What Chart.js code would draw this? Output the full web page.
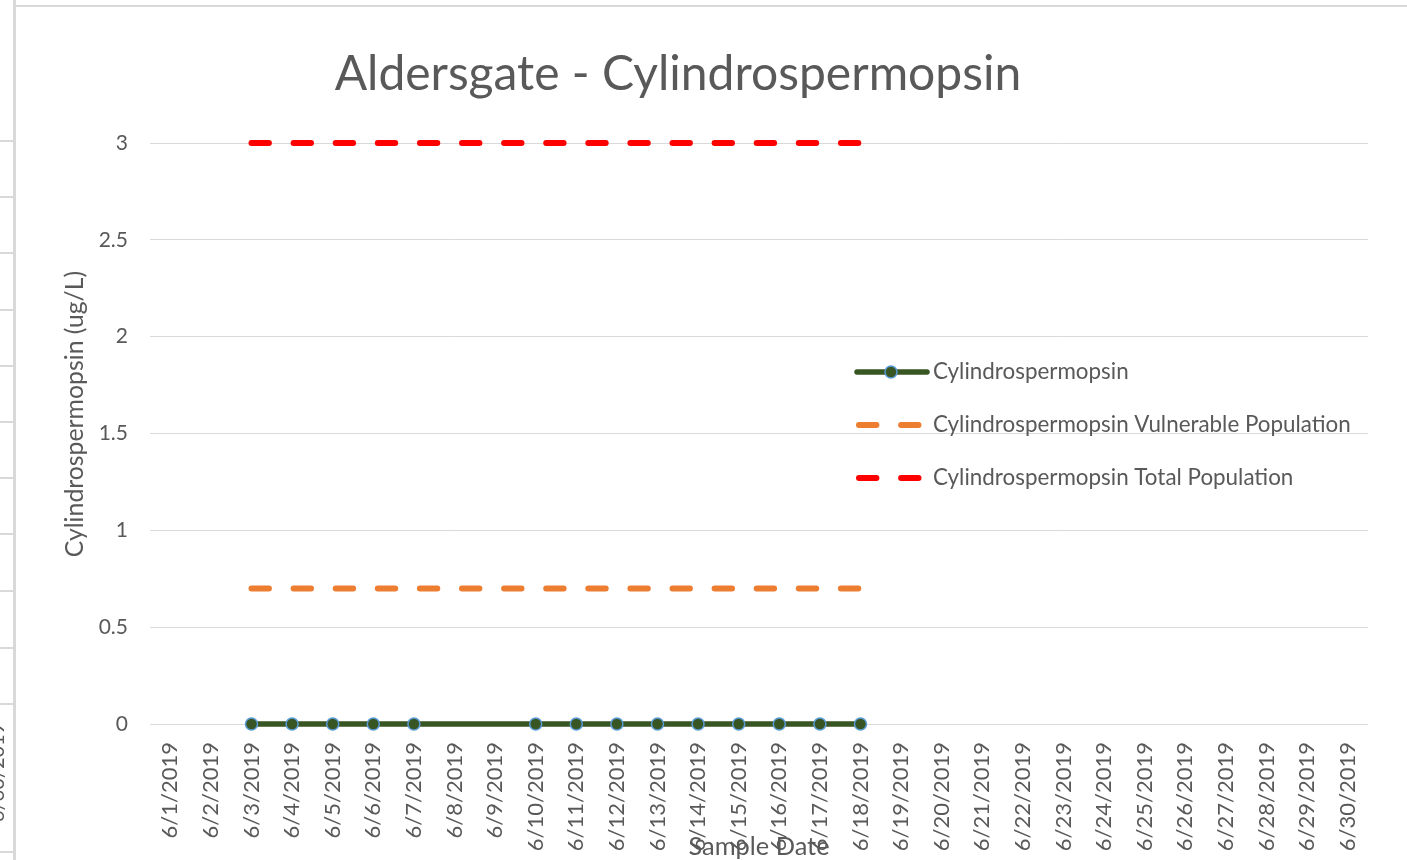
<!DOCTYPE html>
<html>
<head>
<meta charset="utf-8">
<script src="https://cdn.jsdelivr.net/npm/chart.js@4.4.0/dist/chart.umd.min.js"></script>
<style>
  html, body { margin: 0; padding: 0; background: #ffffff; overflow: hidden; }
  body { width: 1407px; height: 860px; position: relative; }
  #c { position: absolute; left: -12px; top: 0; }
  .fr { position: absolute; background: #d9d9d9; z-index: 2; }
  .cellText { position: absolute; z-index: 2; font-family: Lato, sans-serif; font-size: 20px; color: #595959;
              transform-origin: left top; transform: rotate(-90deg); white-space: nowrap; }
</style>
</head>
<body>
<canvas id="c" width="1419" height="860"></canvas>
<div class="fr" style="left:15px; top:5px; width:1392px; height:2px;"></div>
<div class="fr" style="left:13px; top:0; width:3px; height:860px;"></div>
<div id="ticks"></div>
<div class="cellText" style="left:-16px; top:822px;">6/30/2019</div>
<script>
// ---- data ----
const dates = ["6/1/2019","6/2/2019","6/3/2019","6/4/2019","6/5/2019","6/6/2019","6/7/2019","6/8/2019","6/9/2019","6/10/2019",
  "6/11/2019","6/12/2019","6/13/2019","6/14/2019","6/15/2019","6/16/2019","6/17/2019","6/18/2019","6/19/2019","6/20/2019",
  "6/21/2019","6/22/2019","6/23/2019","6/24/2019","6/25/2019","6/26/2019","6/27/2019","6/28/2019","6/29/2019","6/30/2019"];
const cylindrospermopsin = [null,null,0,0,0,0,0,null,null,0,0,0,0,0,0,0,0,0,null,null,null,null,null,null,null,null,null,null,null,null];
const vulnerablePopulation = [null,null,0.7,0.7,0.7,0.7,0.7,0.7,0.7,0.7,0.7,0.7,0.7,0.7,0.7,0.7,0.7,0.7,null,null,null,null,null,null,null,null,null,null,null,null];
const totalPopulation = [null,null,3,3,3,3,3,3,3,3,3,3,3,3,3,3,3,3,null,null,null,null,null,null,null,null,null,null,null,null];
const yTicks = [0, 0.5, 1, 1.5, 2, 2.5, 3];
const yTickLabels = ["0", "0.5", "1", "1.5", "2", "2.5", "3"];
const seriesNames = ["Cylindrospermopsin", "Cylindrospermopsin Vulnerable Population", "Cylindrospermopsin Total Population"];
const chartTitle = "Aldersgate - Cylindrospermopsin";
const yTitle = "Cylindrospermopsin (ug/L)";
const xTitle = "Sample Date";

// left spreadsheet cell borders (decoration)
const cellLines = [140,196,252,309,365,421,477,533,590,647,703,851];
const tk = document.getElementById('ticks');
cellLines.forEach(y => {
  const d = document.createElement('div');
  d.className = 'fr';
  d.style.cssText = 'left:0;top:' + y + 'px;width:13px;height:2px;';
  tk.appendChild(d);
});

const TXT = '#595959';
const FONT = 'Lato, "Open Sans", sans-serif';

const overlay = {
  id: 'overlay',
  afterDraw(chart) {
    const ctx = chart.ctx;
    const ds = chart.data.datasets;
    // y axis title
    ctx.save();
    ctx.fillStyle = TXT;
    ctx.font = '24.8px ' + FONT;
    ctx.textAlign = 'center';
    ctx.textBaseline = 'middle';
    ctx.translate(87, 414);
    ctx.rotate(-Math.PI / 2);
    ctx.fillText(yTitle, 0, 0);
    ctx.restore();
    // legend inside plot
    const rows = [372, 425, 478];
    const x0 = 869, x1 = 939, tx = 945;
    ds.forEach((d, i) => {
      const y = rows[i];
      ctx.save();
      ctx.strokeStyle = d.borderColor;
      ctx.lineWidth = d.borderWidth;
      ctx.lineCap = 'round';
      if (d.borderDash && d.borderDash.length) {
        ctx.setLineDash(d.borderDash);
        ctx.beginPath(); ctx.moveTo(x0 + 2, y); ctx.lineTo(x1 - 6, y); ctx.stroke();
      } else {
        ctx.beginPath(); ctx.moveTo(x0, y); ctx.lineTo(x1, y); ctx.stroke();
        ctx.beginPath();
        ctx.arc((x0 + x1) / 2 - 1, y, d.pointRadius, 0, Math.PI * 2);
        ctx.fillStyle = d.pointBackgroundColor;
        ctx.fill();
        ctx.lineWidth = d.pointBorderWidth;
        ctx.strokeStyle = d.pointBorderColor;
        ctx.stroke();
      }
      ctx.restore();
      ctx.save();
      ctx.fillStyle = TXT;
      ctx.font = '22.4px ' + FONT;
      ctx.textAlign = 'left';
      ctx.textBaseline = 'middle';
      ctx.fillText(d.label, tx, y);
      ctx.restore();
    });
  }
};

new Chart(document.getElementById('c'), {
  type: 'line',
  data: {
    labels: dates,
    datasets: [
      {
        label: seriesNames[0], data: cylindrospermopsin, spanGaps: true, clip: false,
        borderColor: '#375623', borderWidth: 5.5, borderCapStyle: 'round',
        pointRadius: 6, pointBackgroundColor: '#375623', pointBorderColor: '#5B9BD5', pointBorderWidth: 1.5,
        pointHoverRadius: 6, order: 0
      },
      {
        label: seriesNames[1], data: vulnerablePopulation, clip: false,
        borderColor: '#ED7D31', borderWidth: 6, borderDash: [17.4, 24.7], borderCapStyle: 'round',
        pointRadius: 0, pointHoverRadius: 0, order: 1
      },
      {
        label: seriesNames[2], data: totalPopulation, clip: false,
        borderColor: '#FF0000', borderWidth: 6, borderDash: [17.4, 24.7], borderCapStyle: 'round',
        pointRadius: 0, pointHoverRadius: 0, order: 2
      }
    ]
  },
  options: {
    responsive: false,
    animation: false,
    devicePixelRatio: 1,
    events: [],
    layout: { padding: { left: 0, right: 39, top: 0, bottom: 0 } },
    plugins: {
      legend: { display: false },
      tooltip: { enabled: false },
      title: {
        display: true, text: chartTitle, color: TXT,
        font: { family: FONT, size: 48, weight: 'normal', lineHeight: 1.2 },
        padding: { top: 46.2, bottom: 39.2 }
      }
    },
    scales: {
      x: {
        offset: true,
        grid: { display: false, drawTicks: false },
        border: { display: false },
        ticks: { autoSkip: false, minRotation: 90, maxRotation: 90, padding: 18, color: TXT,
                 font: { family: FONT, size: 22 } },
        title: { display: true, text: xTitle, color: TXT, padding: { top: 0, bottom: 0 },
                 font: { family: FONT, size: 25.4, lineHeight: 1 } },
        afterFit(s) { s.height = 136; }
      },
      y: {
        min: 0, max: 3,
        afterBuildTicks(s) { s.ticks = yTicks.map(v => ({ value: v })); },
        grid: { color: '#d9d9d9', lineWidth: 1, drawTicks: false },
        border: { display: false },
        ticks: { padding: 22, color: TXT, font: { family: FONT, size: 21 },
                 callback(v) { const i = yTicks.indexOf(v); return i >= 0 ? yTickLabels[i] : ''; } },
        afterFit(s) { s.width = 162; }
      }
    }
  },
  plugins: [overlay]
});
</script>
</body>
</html>
